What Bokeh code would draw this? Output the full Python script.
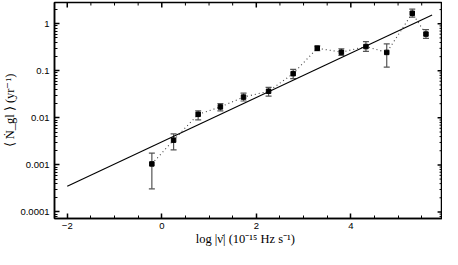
import math
from bokeh.plotting import figure
from bokeh.models import (ColumnDataSource, Whisker, TeeHead, FixedTicker, LogAxis,
                          LinearAxis, Range1d)
from bokeh.embed import file_html
from bokeh.resources import INLINE

# data
log_nudot = [-0.21, 0.25, 0.77, 1.24, 1.73, 2.26, 2.78, 3.29, 3.80, 4.32, 4.76, 5.30, 5.59]
rate = [0.00105, 0.00336, 0.0119, 0.0171, 0.0276, 0.0368, 0.087, 0.302, 0.249, 0.328, 0.246, 1.67, 0.603]
rate_hi = [0.00178, 0.00456, 0.0141, 0.0201, 0.0334, 0.0446, 0.107, 0.339, 0.294, 0.417, 0.373, 2.05, 0.75]
rate_lo = [0.00031, 0.00208, 0.00904, 0.0141, 0.0228, 0.029, 0.0685, 0.267, 0.213, 0.258, 0.12, 1.38, 0.488]
fit_x = [-2.0, 5.72]
fit_y = [0.00035, 1.54]

x_ticks = [-2, 0, 2, 4]
x_minor = [-2.0 + 0.5 * i for i in range(17)]
y_ticks = [1e-4, 1e-3, 1e-2, 1e-1, 1.0]
y_tick_labels = ["0.0001", "0.001", "0.01", "0.1", "1"]
y_minor = [m * 10.0 ** e for e in range(-5, 1) for m in range(2, 10)]
x_title = "log |ν̇|   (10⁻¹⁵ Hz s⁻¹)"
y_title = "⟨ Ṅ_gl ⟩  (yr⁻¹)"

X0, X1 = -2.27, 5.94
Y0, Y1 = 7.26e-5, 2.83

src = ColumnDataSource(dict(x=log_nudot, y=rate, hi=rate_hi, lo=rate_lo))

p = figure(width=442, height=248, output_backend="svg", toolbar_location=None,
           y_axis_type="log", x_range=Range1d(X0, X1), y_range=Range1d(Y0, Y1),
           min_border_left=43, min_border_right=0, min_border_top=2, min_border_bottom=20,
           x_axis_location=None, y_axis_location=None)
p.grid.visible = False
p.outline_line_color = "black"
p.outline_line_width = 1.5
p.background_fill_color = "white"
p.border_fill_color = "white"

xt = FixedTicker(ticks=x_ticks, minor_ticks=x_minor)
yt = FixedTicker(ticks=y_ticks, minor_ticks=y_minor)

def style(ax, ticker, title, standoff):
    ax.ticker = ticker
    ax.axis_line_color = "black"
    ax.axis_line_width = 1.5
    ax.major_tick_in = 5
    ax.major_tick_out = 0
    ax.minor_tick_in = 3
    ax.minor_tick_out = 0
    ax.major_tick_line_color = "black"
    ax.major_tick_line_width = 1.5
    ax.minor_tick_line_color = "black"
    ax.minor_tick_line_width = 1
    ax.major_label_text_font = "Liberation Sans"
    ax.major_label_text_font_size = "9.5px"
    ax.major_label_text_color = "black"
    ax.major_label_standoff = standoff
    ax.axis_label = title
    ax.axis_label_text_font = "Liberation Serif"
    ax.axis_label_text_font_size = "12.5px"
    ax.axis_label_text_font_style = "normal"
    ax.axis_label_text_color = "black"
    ax.axis_label_standoff = 0

bx = LinearAxis(); style(bx, xt, x_title, 4)
ly = LogAxis(); style(ly, yt, y_title, 5)
ly.major_label_overrides = {v: s for v, s in zip(y_ticks, y_tick_labels)}
p.add_layout(bx, "below")
p.add_layout(ly, "left")

# mirrored ticks on top and right edges (tick marks, lengths in data units ~5px / 3px)
minx = [v for v in x_minor if v not in x_ticks]
miny = [v for v in y_minor if Y0 < v < Y1]
dy_maj, dy_min = 10 ** (-5 / 47.0), 10 ** (-3 / 47.0)
dx_maj, dx_min = 5 / 48.0, 3 / 48.0
p.segment(x0=x_ticks, y0=[Y1] * len(x_ticks), x1=x_ticks, y1=[Y1 * dy_maj] * len(x_ticks),
          line_color="black", line_width=1.5)
p.segment(x0=minx, y0=[Y1] * len(minx), x1=minx, y1=[Y1 * dy_min] * len(minx),
          line_color="black", line_width=1)
p.segment(x0=[X1] * len(y_ticks), y0=y_ticks, x1=[X1 - dx_maj] * len(y_ticks), y1=y_ticks,
          line_color="black", line_width=1.5)
p.segment(x0=[X1] * len(miny), y0=miny, x1=[X1 - dx_min] * len(miny), y1=miny,
          line_color="black", line_width=1)

# fit line
p.line(fit_x, fit_y, line_color="black", line_width=1.1)
# dotted connection
p.line("x", "y", source=src, line_color="#444444", line_width=1.1, line_dash="1 3")
# error bars
w = Whisker(source=src, base="x", upper="hi", lower="lo", dimension="height",
            line_color="#555555", line_width=1.2,
            upper_head=TeeHead(size=6, line_color="#555555", line_width=1.2),
            lower_head=TeeHead(size=6, line_color="#555555", line_width=1.2))
p.add_layout(w)
p.scatter("x", "y", source=src, marker="square", size=4.5, color="black")

open("out.html", "w").write(file_html(p, INLINE))
